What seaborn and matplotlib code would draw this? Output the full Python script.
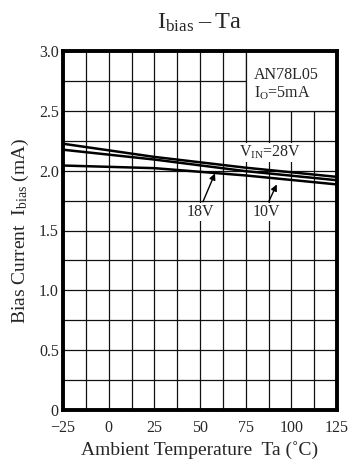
import matplotlib
matplotlib.use("Agg")
import matplotlib.pyplot as plt
import seaborn as sns
import pandas as pd
from matplotlib.patches import Rectangle

# ---- data ----
temps = [-25, 25, 75, 125]
ibias_28v = [2.225, 2.115, 2.025, 1.948]
ibias_18v = [2.175, 2.093, 1.996, 1.920]
ibias_10v = [2.043, 2.021, 1.960, 1.885]
series_names = ["28V", "18V", "10V"]
x_ticks = [-25, 0, 25, 50, 75, 100, 125]
x_ticklabels = ["\u221225", "0", "25", "50", "75", "100", "125"]
y_ticks = [0, 0.5, 1.0, 1.5, 2.0, 2.5, 3.0]
y_ticklabels = ["0", "0.5", "1.0", "1.5", "2.0", "2.5", "3.0"]

sns.set_style("white")
plt.rcParams["font.family"] = ["Liberation Serif", "DejaVu Serif"]
plt.rcParams["mathtext.fontset"] = "custom"
plt.rcParams["mathtext.rm"] = "Liberation Serif"
plt.rcParams["mathtext.it"] = "Liberation Serif:italic"

df = pd.DataFrame({
    "Ta": temps * 3,
    "Ibias": ibias_28v + ibias_18v + ibias_10v,
    "Vin": [s for s in series_names for _ in temps],
})

fig = plt.figure(figsize=(3.49, 4.66), dpi=100)
ax = fig.add_axes([63 / 349, 1 - 410 / 466, 274 / 349, 359 / 466])

sns.lineplot(data=df, x="Ta", y="Ibias", units="Vin", estimator=None,
             color="black", lw=1.8, ax=ax, legend=False, zorder=3)

ax.set_xlim(-25, 125)
ax.set_ylim(0, 3.0)

# grid
for gx in [-25 + 12.5 * i for i in range(13)]:
    ax.axvline(gx, color="#111111", lw=0.9, zorder=0.5)
for gy in [0.25 * i for i in range(13)]:
    ax.axhline(gy, color="#111111", lw=0.9, zorder=0.5)

# white box for device annotation
ax.add_patch(Rectangle((75, 2.5), 50, 0.5, facecolor="white", edgecolor="#111111",
                       lw=0.9, zorder=1))
ax.text(79.5, 2.80, "AN78L05", fontsize=11.5, ha="left", va="center", zorder=4)
ax.text(79.5, 2.645, r"I$_\mathregular{O}$=5mA", fontsize=11.5, ha="left",
        va="center", zorder=4)

ax.set_xticks(x_ticks)
ax.set_xticklabels(x_ticklabels, fontsize=11.5)
ax.set_yticks(y_ticks)
ax.set_yticklabels(y_ticklabels, fontsize=11.5)
ax.tick_params(axis="x", length=0, pad=7)
ax.tick_params(axis="y", length=0, pad=3)

for sp in ax.spines.values():
    sp.set_visible(True)
    sp.set_linewidth(2.8)
    sp.set_color("black")
    sp.set_zorder(5)

# labels on curves
bb = dict(facecolor="white", edgecolor="none", pad=0.6)
ax.text(88.3, 2.155, r"V$_\mathregular{IN}$=28V", fontsize=11.5, ha="center",
        va="center", bbox=bb, zorder=4)
ax.text(50.0, 1.655, "18V", fontsize=11.5, ha="center", va="center", bbox=bb, zorder=4)
ax.text(86.1, 1.655, "10V", fontsize=11.5, ha="center", va="center", bbox=bb, zorder=4)

arrow = dict(arrowstyle="-|>", color="black", lw=1.0, mutation_scale=9,
             shrinkA=0, shrinkB=0)
ax.annotate("", xy=(58.2, 1.977), xytext=(51.6, 1.74), arrowprops=arrow, zorder=4)
ax.annotate("", xy=(92.0, 1.885), xytext=(87.6, 1.74), arrowprops=arrow, zorder=4)

ax.set_xlabel("Ambient Temperature  Ta (\u02daC)", fontsize=14, labelpad=4)
ax.set_ylabel(r"Bias Current  I$_\mathregular{bias}$ (mA)", fontsize=14, labelpad=6)
ax.set_title("I$_\\mathregular{bias}$\u2009\u2013\u2009Ta", fontsize=17.5, pad=16)

fig.savefig("out.png", dpi=100)
